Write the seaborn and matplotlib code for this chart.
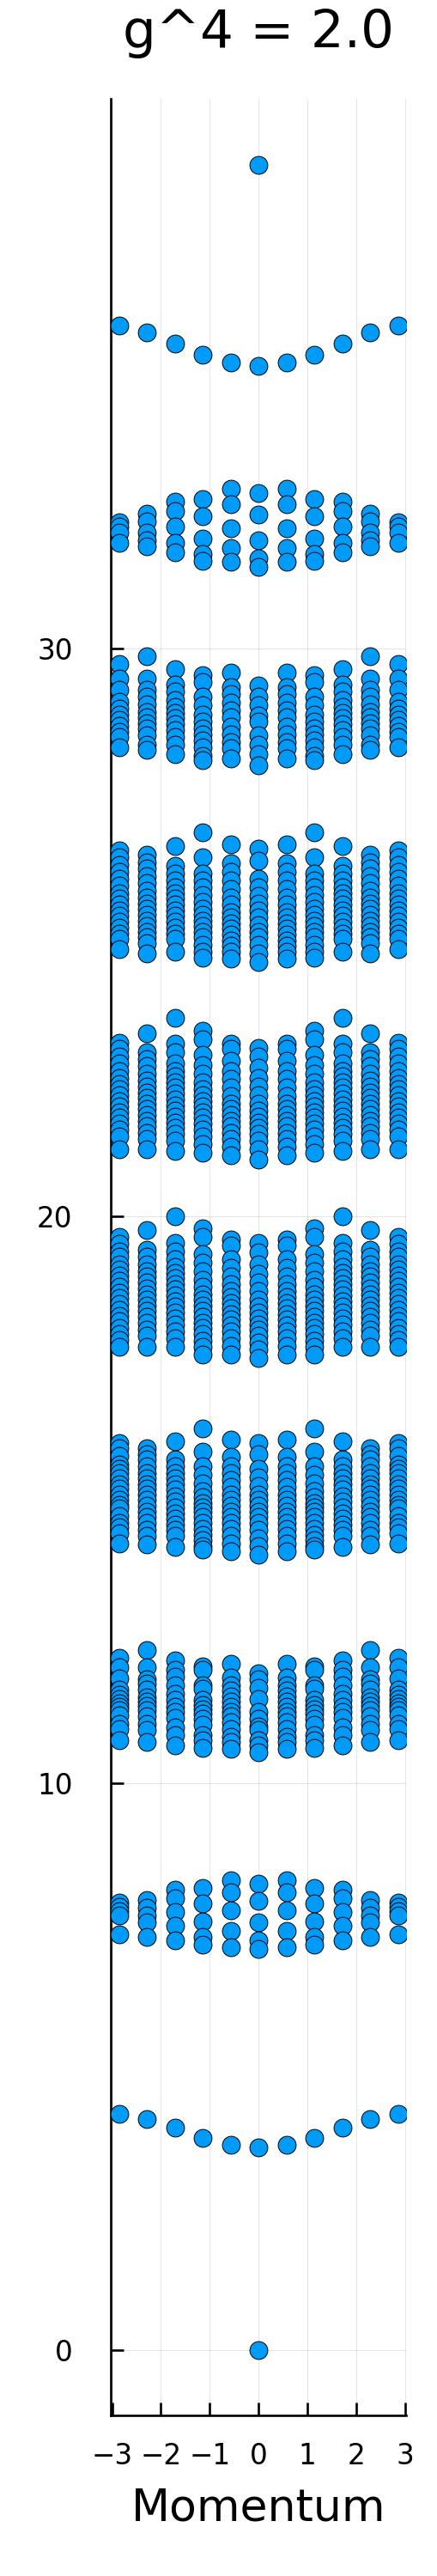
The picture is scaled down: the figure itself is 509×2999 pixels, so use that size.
import numpy as np
import pandas as pd
import seaborn as sns
import matplotlib
matplotlib.use("Agg")
import matplotlib.pyplot as plt

# momentum values (11 sites), energies read per column for k = -5..0 (spectrum is symmetric)
momentum = [-2.856, -2.285, -1.714, -1.142, -0.571, 0.0, 0.571, 1.142, 1.714, 2.285, 2.856]

ground = [[], [], [], [], [], [0.0]]
band_1 = [[4.16], [4.07], [3.92], [3.75], [3.62], [3.57]]
band_2 = [
    [7.90, 7.82, 7.74, 7.67, 7.33],
    [7.94, 7.80, 7.67, 7.54, 7.29],
    [8.12, 7.97, 7.72, 7.49, 7.23],
    [8.15, 7.88, 7.56, 7.29, 7.15],
    [8.29, 8.07, 7.75, 7.39, 7.10],
    [8.23, 7.92, 7.54, 7.23, 7.07],
]
band_3 = [
    [12.21, 12.04, 11.85, 11.65, 11.56, 11.48, 11.41, 11.35, 11.28, 11.20, 11.05, 10.95, 10.75],
    [12.34, 12.04, 11.83, 11.76, 11.65, 11.51, 11.43, 11.36, 11.28, 11.18, 11.05, 10.93, 10.72],
    [12.16, 11.99, 11.87, 11.73, 11.58, 11.46, 11.35, 11.25, 11.15, 10.98, 10.85, 10.67],
    [12.06, 11.99, 11.73, 11.67, 11.46, 11.38, 11.30, 11.23, 11.13, 11.03, 10.85, 10.75, 10.62],
    [12.10, 11.86, 11.73, 11.63, 11.53, 11.43, 11.35, 11.25, 11.18, 11.08, 10.95, 10.82, 10.72, 10.60],
    [11.93, 11.83, 11.68, 11.48, 11.25, 11.13, 11.00, 10.93, 10.75, 10.67, 10.55],
]
band_4 = [
    [16.00, 15.90, 15.77, 15.62, 15.54, 15.47, 15.37, 15.27, 15.19, 15.09, 14.99, 14.91, 14.84, 14.71, 14.59, 14.51, 14.41, 14.23],
    [15.90, 15.80, 15.70, 15.59, 15.47, 15.37, 15.27, 15.19, 15.09, 14.99, 14.89, 14.79, 14.69, 14.59, 14.46, 14.36, 14.21],
    [16.02, 15.70, 15.59, 15.47, 15.37, 15.27, 15.17, 15.06, 14.96, 14.86, 14.76, 14.66, 14.56, 14.46, 14.36, 14.16],
    [16.25, 15.85, 15.59, 15.44, 15.29, 15.14, 15.04, 14.94, 14.86, 14.79, 14.69, 14.59, 14.48, 14.38, 14.28, 14.18, 14.11],
    [16.05, 15.75, 15.59, 15.47, 15.34, 15.22, 15.09, 14.99, 14.89, 14.79, 14.69, 14.59, 14.48, 14.36, 14.23, 14.08],
    [16.00, 15.80, 15.54, 15.39, 15.24, 15.09, 14.99, 14.89, 14.79, 14.69, 14.59, 14.46, 14.31, 14.18, 14.03],
]
band_5 = [
    [19.63, 19.51, 19.38, 19.28, 19.15, 19.05, 18.95, 18.85, 18.75, 18.65, 18.55, 18.45, 18.35, 18.24, 18.14, 18.02, 17.92, 17.82, 17.69],
    [19.75, 19.41, 19.28, 19.15, 19.03, 18.93, 18.82, 18.72, 18.62, 18.52, 18.42, 18.32, 18.22, 18.12, 17.99, 17.89, 17.69],
    [19.99, 19.53, 19.38, 19.23, 19.10, 19.00, 18.90, 18.80, 18.70, 18.60, 18.50, 18.40, 18.30, 18.19, 18.09, 17.97, 17.84, 17.69],
    [19.78, 19.63, 19.33, 19.18, 19.03, 18.88, 18.75, 18.62, 18.52, 18.42, 18.32, 18.22, 18.12, 18.02, 17.92, 17.79, 17.69, 17.56],
    [19.58, 19.48, 19.23, 19.08, 18.93, 18.80, 18.67, 18.57, 18.47, 18.37, 18.27, 18.17, 18.07, 17.97, 17.84, 17.71, 17.56],
    [19.53, 19.35, 19.15, 18.98, 18.82, 18.67, 18.52, 18.40, 18.30, 18.19, 18.09, 17.99, 17.89, 17.76, 17.64, 17.49],
]
band_6 = [
    [23.06, 22.94, 22.81, 22.69, 22.56, 22.43, 22.33, 22.23, 22.13, 22.03, 21.93, 21.83, 21.73, 21.63, 21.52, 21.40, 21.17],
    [23.22, 22.89, 22.76, 22.64, 22.51, 22.38, 22.28, 22.18, 22.08, 21.98, 21.88, 21.78, 21.68, 21.58, 21.47, 21.35, 21.17],
    [23.49, 23.04, 22.89, 22.69, 22.56, 22.46, 22.36, 22.26, 22.16, 22.05, 21.95, 21.85, 21.75, 21.65, 21.55, 21.45, 21.32, 21.15],
    [23.27, 23.11, 22.84, 22.66, 22.51, 22.36, 22.23, 22.13, 22.03, 21.93, 21.83, 21.73, 21.63, 21.52, 21.40, 21.27, 21.12],
    [23.04, 22.94, 22.74, 22.56, 22.41, 22.26, 22.11, 21.98, 21.88, 21.78, 21.68, 21.58, 21.47, 21.35, 21.22, 21.07],
    [22.96, 22.81, 22.61, 22.43, 22.28, 22.13, 21.98, 21.85, 21.75, 21.65, 21.55, 21.45, 21.32, 21.17, 20.99],
]
band_7 = [
    [26.45, 26.32, 26.19, 26.07, 25.94, 25.82, 25.69, 25.59, 25.49, 25.39, 25.29, 25.19, 25.08, 24.98, 24.88, 24.70],
    [26.37, 26.24, 26.12, 25.99, 25.87, 25.74, 25.61, 25.51, 25.41, 25.31, 25.21, 25.11, 25.01, 24.91, 24.81, 24.63],
    [26.52, 26.17, 26.04, 25.92, 25.79, 25.69, 25.59, 25.49, 25.39, 25.29, 25.19, 25.08, 24.98, 24.88, 24.66],
    [26.77, 26.32, 26.04, 25.92, 25.79, 25.66, 25.54, 25.41, 25.31, 25.21, 25.11, 25.01, 24.91, 24.78, 24.66, 24.55],
    [26.55, 26.22, 26.07, 25.92, 25.77, 25.61, 25.49, 25.36, 25.26, 25.16, 25.06, 24.96, 24.86, 24.76, 24.66, 24.53],
    [26.47, 26.27, 25.94, 25.79, 25.64, 25.51, 25.39, 25.26, 25.13, 25.01, 24.91, 24.78, 24.63, 24.48],
]
band_8 = [
    [29.73, 29.47, 29.27, 29.07, 28.95, 28.84, 28.74, 28.64, 28.54, 28.44, 28.26],
    [29.87, 29.47, 29.27, 29.15, 29.02, 28.89, 28.79, 28.69, 28.59, 28.47, 28.31, 28.21],
    [29.64, 29.37, 29.25, 29.10, 28.97, 28.87, 28.77, 28.67, 28.57, 28.44, 28.31, 28.14],
    [29.53, 29.42, 29.15, 29.00, 28.84, 28.72, 28.59, 28.49, 28.39, 28.26, 28.11, 28.04],
    [29.58, 29.32, 29.20, 29.05, 28.92, 28.79, 28.62, 28.49, 28.36, 28.24, 28.06],
    [29.36, 29.15, 29.00, 28.82, 28.72, 28.47, 28.31, 28.14, 27.94],
]
band_9 = [
    [32.23, 32.15, 32.05, 31.87],
    [32.38, 32.25, 32.05, 31.92, 31.80],
    [32.59, 32.43, 32.15, 31.87, 31.70],
    [32.64, 32.33, 31.95, 31.67, 31.55],
    [32.82, 32.55, 32.13, 31.77, 31.53],
    [32.74, 32.36, 31.92, 31.60, 31.45],
]
band_10 = [[35.70], [35.58], [35.38], [35.19], [35.04], [34.99]]
top_state = [[], [], [], [], [], [38.53]]

bands = [ground, band_1, band_2, band_3, band_4, band_5, band_6, band_7, band_8, band_9, band_10, top_state]

rows = []
for band in bands:
    for j, k in enumerate(momentum):
        col = band[min(j, 10 - j)]
        for e in col:
            rows.append((k, e))
df = pd.DataFrame(rows, columns=["Momentum", "Energy"])

sns.set_style("white")
plt.rcParams['font.family'] = ['DejaVu Sans']
plt.rcParams['text.color'] = 'black'
plt.rcParams['axes.labelcolor'] = 'black'
plt.rcParams['xtick.color'] = 'black'
plt.rcParams['ytick.color'] = 'black'

fig = plt.figure(figsize=(5.09, 29.99), dpi=100)
ax = fig.add_axes([0.2534, 0.0622, 0.930 - 0.2534, 0.9615 - 0.0622])

sns.scatterplot(data=df, x="Momentum", y="Energy", ax=ax, color="#009AF9",
                edgecolor="black", linewidth=0.7, s=225, legend=False, zorder=3)

ax.set_xlim(-3.027, 3.027)
ax.set_ylim(-1.156, 39.69)
ax.set_xticks([-3, -2, -1, 0, 1, 2, 3])
ax.set_yticks([0, 10, 20, 30])
ax.grid(True, color="black", alpha=0.1, linewidth=0.8)
ax.set_axisbelow(True)

for side in ["top", "right"]:
    ax.spines[side].set_visible(False)
for side in ["left", "bottom"]:
    ax.spines[side].set_linewidth(1.9)
    ax.spines[side].set_color("black")

# seaborn's white style hides the tick marks; Julia draws short ticks pointing inward
ax.tick_params(axis="both", direction="in", length=10.8, width=1.9, labelsize=23.5,
               color="black", labelcolor="black", bottom=True, left=True)
ax.tick_params(axis="y", pad=32)
ax.tick_params(axis="x", pad=22)

ax.set_xlabel("Momentum", fontsize=37.5, labelpad=14, color="black")
ax.set_ylabel("")
fig.text(0.5914, 1 - 55 / 2999, "g^4 = 2.0", fontsize=44, ha="center", va="baseline", color="black")

fig.savefig("out.png", dpi=100)
